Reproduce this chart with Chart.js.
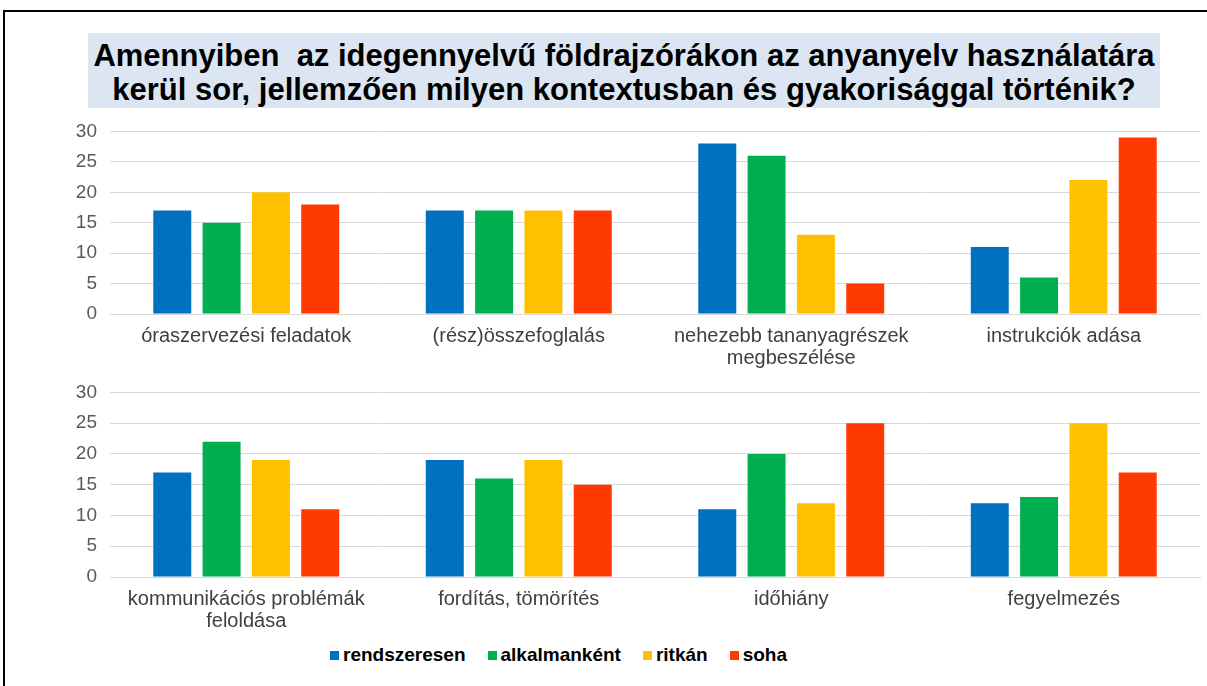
<!DOCTYPE html>
<html lang="hu">
<head>
    <meta charset="UTF-8">
    <title>Anyanyelv használata</title>
    <style>
        body { margin: 0; background: #fff; width: 1207px; height: 686px; overflow: hidden; position: relative; font-family: "Liberation Sans", Arial, sans-serif; }
        .frame { position: absolute; left: 3px; top: 10px; width: 1230px; height: 700px; border-left: 2px solid #000; border-top: 2px solid #000; }
        .title { position: absolute; left: 88px; top: 33px; width: 1072px; height: 75px; background: #dce6f2; text-align: center; font-weight: bold; font-size: 31px; line-height: 34px; padding-top: 6px; box-sizing: border-box; color: #000; white-space: nowrap; }
        #top, #bottom { position: absolute; left: 0; }
        #top { top: 107px; }
        #bottom { top: 368px; }
        .legend { position: absolute; left: 330px; top: 644px; display: flex; font-weight: bold; font-size: 19px; color: #000; }
        .legend span { display: flex; align-items: center; margin-right: 22px; }
        .legend i { display: inline-block; width: 9px; height: 9px; margin-right: 4px; }
    </style>
</head>
<body>
    <div class="frame"></div>
    <div class="title">Amennyiben&nbsp; az idegennyelvű földrajzórákon az anyanyelv használatára<br>kerül sor, jellemzően milyen kontextusban és gyakorisággal történik?</div>
    <canvas id="top" width="1207" height="268"></canvas>
    <canvas id="bottom" width="1207" height="270"></canvas>
    <div class="legend" id="legend"></div>

    <script src="https://cdn.jsdelivr.net/npm/chart.js"></script>
    <script>
        const seriesNames = ['rendszeresen', 'alkalmanként', 'ritkán', 'soha'];
        const colors = ['#0070c0', '#00b050', '#ffc000', '#ff3a00'];

        const topLabels = ['óraszervezési feladatok', '(rész)összefoglalás', ['nehezebb tananyagrészek', 'megbeszélése'], 'instrukciók adása'];
        const topRendszeresen = [17, 17, 28, 11];
        const topAlkalmankent = [15, 17, 26, 6];
        const topRitkan = [20, 17, 13, 22];
        const topSoha = [18, 17, 5, 29];

        const bottomLabels = [['kommunikációs problémák', 'feloldása'], 'fordítás, tömörítés', 'időhiány', 'fegyelmezés'];
        const bottomRendszeresen = [17, 19, 11, 12];
        const bottomAlkalmankent = [22, 16, 20, 13];
        const bottomRitkan = [19, 19, 12, 25];
        const bottomSoha = [11, 15, 25, 17];

        const yTicks = [0, 5, 10, 15, 20, 25, 30];

        function makeChart(id, labels, values) {
            let ctx = document.getElementById(id).getContext('2d');
            return new Chart(ctx, {
                type: 'bar',
                data: {
                    labels: labels,
                    datasets: values.map((v, i) => ({
                        label: seriesNames[i],
                        data: v,
                        backgroundColor: colors[i],
                        barPercentage: 0.77,
                        categoryPercentage: 0.724
                    }))
                },
                options: {
                    responsive: false,
                    animation: false,
                    layout: { padding: { top: 1, right: 7, bottom: 1, left: 0 } },
                    plugins: { legend: { display: false }, tooltip: { enabled: false } },
                    scales: {
                        x: {
                            afterFit: s => { s.height = 60; },
                            grid: { display: false, drawTicks: false },
                            border: { color: '#d9d9d9' },
                            ticks: {
                                color: '#404040',
                                padding: 11,
                                maxRotation: 0,
                                autoSkip: false,
                                font: { family: 'Liberation Sans', size: 20, lineHeight: 1.12 }
                            }
                        },
                        y: {
                            min: 0,
                            max: 30,
                            afterFit: s => { s.width = 110; },
                            afterBuildTicks: s => { s.ticks = yTicks.map(v => ({ value: v })); },
                            grid: { color: '#d9d9d9', drawTicks: false },
                            border: { display: false },
                            ticks: {
                                color: '#595959',
                                padding: 13,
                                font: { family: 'Liberation Sans', size: 19 }
                            }
                        }
                    }
                }
            });
        }

        makeChart('top', topLabels, [topRendszeresen, topAlkalmankent, topRitkan, topSoha]);
        makeChart('bottom', bottomLabels, [bottomRendszeresen, bottomAlkalmankent, bottomRitkan, bottomSoha]);

        let legend = document.getElementById('legend');
        seriesNames.forEach((name, i) => {
            let item = document.createElement('span');
            item.innerHTML = '<i style="background:' + colors[i] + '"></i>' + name;
            legend.appendChild(item);
        });
    </script>
</body>
</html>
